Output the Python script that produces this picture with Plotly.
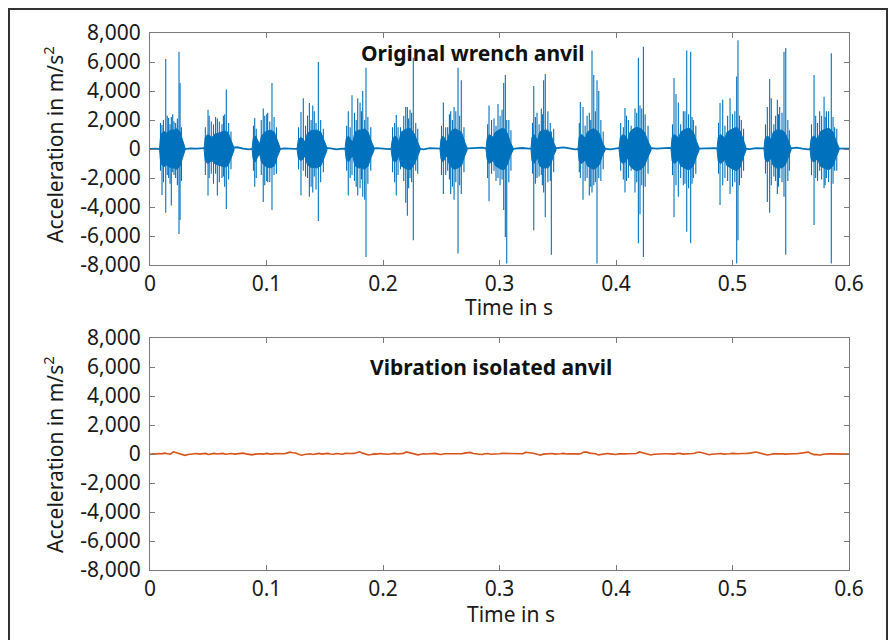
import plotly.graph_objects as go

# ---------------- data ----------------
# Top panel: impact bursts of the original wrench anvil (time in ms)
burst_start_ms = [8.2, 46.4, 87.6, 126.2, 167.4, 206.9, 248.9, 288.4, 327.0, 367.4,
                  402.6, 447.2, 486.7, 527.0, 566.5]
burst_end_ms = [30.0, 72.1, 111.6, 151.9, 192.3, 231.8, 272.1, 311.6, 348.5, 390.6,
                430.1, 471.3, 511.6, 550.2, 591.4]
# relative position inside a burst and dense-core amplitude (m/s^2) read at those positions
env_pos = [0, 0.04, 0.12, 0.2, 0.27, 0.34, 0.45, 0.56, 0.68, 0.8, 0.9, 1.0]
env_amp = [
    [0, 900, 1150, 1200, 1100, 1200, 1300, 1300, 1400, 1200, 700, 100],
    [0, 800, 1000, 900, 800, 1000, 1100, 1150, 1250, 1150, 600, 100],
    [0, 700, 900, 550, 350, 900, 1150, 1250, 1300, 1150, 550, 100],
    [0, 600, 800, 700, 450, 1050, 1250, 1300, 1300, 1150, 600, 100],
    [0, 700, 900, 600, 500, 1150, 1300, 1300, 1400, 1150, 550, 100],
    [0, 600, 900, 800, 450, 1150, 1300, 1400, 1400, 1050, 550, 100],
    [0, 700, 900, 600, 450, 1050, 1300, 1400, 1300, 1150, 550, 100],
    [0, 700, 1000, 900, 800, 1150, 1300, 1400, 1400, 1050, 450, 100],
    [0, 800, 1000, 800, 600, 1150, 1300, 1300, 1300, 1000, 450, 100],
    [0, 800, 1000, 900, 700, 1150, 1300, 1400, 1300, 1050, 450, 100],
    [0, 800, 1000, 900, 600, 1150, 1400, 1500, 1400, 1150, 550, 100],
    [0, 800, 1000, 900, 700, 1150, 1300, 1400, 1400, 1150, 550, 100],
    [0, 800, 1000, 900, 700, 1150, 1300, 1400, 1500, 1250, 600, 100],
    [0, 700, 900, 800, 600, 1150, 1300, 1300, 1300, 1050, 550, 100],
    [0, 700, 900, 800, 600, 1150, 1300, 1400, 1400, 1150, 550, 100],
]
# tallest individual spikes: time (ms), positive peak, negative peak
spike_ms = [10.3, 13.5, 16.0, 18.3, 20.6, 24.9, 25.8,
            49.8, 52.6, 57.8, 61.8, 64.1, 65.5,
            89.9, 97.2, 100.2, 101.0, 104.7,
            129.6, 131.6, 136.8, 139.7, 142.5, 144.5,
            170.2, 173.4, 178.3, 180.3, 182.6, 184.3, 185.4,
            211.4, 212.9, 219.5, 220.9, 223.2, 226.0, 228.1,
            251.8, 253.8, 258.1, 261.0, 264.4, 267.2,
            291.0, 295.3, 298.7, 303.6, 305.0, 306.2,
            329.4, 332.2, 335.9, 337.9, 339.3, 343.6, 344.5,
            369.4, 371.7, 377.1, 379.4, 380.9, 383.7, 385.2,
            407.7, 410.6, 416.3, 419.2, 420.6, 422.1, 423.5,
            449.8, 451.5, 453.5, 457.8, 460.7, 464.1, 466.4,
            489.3, 491.6, 497.9, 503.6, 504.7, 507.6,
            529.9, 531.9, 533.3, 538.5, 540.5, 544.2, 545.7,
            570.0, 571.4, 574.8, 578.6, 580.6, 584.8, 587.7]
spike_up = [1650, 6200, 2140, 2200, 1900, 6700, 4550,
            2700, 1900, 2100, 1700, 2400, 4100,
            2140, 2800, 2400, 2500, 4550,
            2550, 3500, 3170, 3000, 1800, 6000,
            2600, 3700, 3500, 3200, 4000, 2000, 5600,
            2350, 1500, 2900, 2900, 2700, 6300, 1800,
            3200, 1500, 2600, 2900, 5600, 4750,
            3000, 2100, 3100, 4550, 5100, 2000,
            4350, 2500, 2800, 4750, 5170, 1800, 1200,
            3240, 2900, 2500, 6800, 5100, 4750, 4000,
            2830, 2000, 2800, 6300, 3000, 2800, 7050,
            4900, 3800, 3200, 2600, 6800, 6700, 2000,
            3170, 3400, 3500, 5000, 7500, 2000,
            2900, 4830, 3500, 3400, 2900, 6700, 6970,
            5100, 2300, 2600, 3600, 2600, 6600, 1500]
spike_dn = [-3170, -4400, -2000, -3900, -1800, -5870, -4900,
            -3200, -1700, -3200, -2000, -2600, -4140,
            -2600, -3650, -2200, -2300, -4200,
            -3200, -1500, -3300, -3000, -2800, -4970,
            -3200, -1800, -3200, -2700, -3300, -3500, -7450,
            -3200, -1800, -3700, -4600, -2000, -6300, -1500,
            -3100, -1800, -3100, -3500, -7200, -3100,
            -3600, -1500, -2000, -4200, -6070, -7900,
            -5600, -2000, -1800, -3000, -4700, -2200, -7300,
            -2000, -3500, -3200, -3000, -2500, -7900, -2000,
            -3000, -2000, -3000, -6500, -4500, -2500, -7450,
            -4700, -2500, -3300, -2500, -5700, -6500, -2000,
            -3860, -2500, -3100, -7900, -6300, -2000,
            -3650, -4400, -2500, -3100, -2000, -3300, -7300,
            -5240, -2000, -1500, -2700, -2000, -7900, -1500]
# smaller spikes inside the dense cores: time (ms), positive peak, negative peak
mid_ms = [9.0, 11.5, 14.8, 17.2, 19.5, 22.0, 23.5, 27.0,
          47.5, 50.8, 54.5, 56.3, 59.5, 63.0, 67.5, 69.5,
          88.8, 91.2, 95.5, 98.5, 102.8, 106.5, 108.5,
          127.5, 133.5, 135.2, 138.3, 141.0, 146.5, 148.8,
          168.8, 171.8, 175.5, 177.0, 181.5, 187.0, 189.5,
          208.2, 210.0, 215.0, 217.8, 222.0, 224.6, 229.8,
          250.2, 255.5, 257.0, 259.6, 262.5, 265.8, 269.5,
          289.8, 293.2, 297.0, 300.5, 302.2, 308.0, 309.8,
          328.3, 330.8, 334.0, 336.8, 341.5, 346.5,
          368.5, 373.5, 375.2, 378.3, 382.3, 387.0, 389.0,
          404.0, 406.3, 409.0, 413.0, 417.8, 425.0, 427.5,
          448.5, 455.5, 459.2, 462.3, 465.3, 468.5,
          488.0, 493.5, 495.8, 500.0, 502.0, 506.0, 509.5,
          528.3, 535.5, 537.0, 539.5, 542.5, 547.5, 548.8,
          567.8, 573.0, 576.5, 579.5, 582.5, 586.3, 589.5]
mid_up = [1800, 2000, 2300, 1700, 2400, 1800, 2100, 1500,
          1500, 2300, 1700, 2200, 1900, 2300, 1800, 1200,
          1600, 1400, 2000, 2300, 1900, 2200, 1500,
          1500, 1600, 2300, 2000, 2600, 2000, 1400,
          1600, 1500, 2500, 2000, 2600, 2200, 1500,
          1500, 1800, 1500, 2300, 2100, 2500, 1400,
          1600, 1500, 2400, 2000, 2600, 2300, 1500,
          1700, 2000, 1600, 2300, 2700, 2000, 1300,
          1800, 2200, 1700, 2400, 2600, 1400,
          1800, 1600, 2300, 2000, 2600, 2000, 1200,
          1800, 1500, 2300, 1600, 2500, 2400, 1600,
          1700, 1700, 2600, 2400, 2200, 1600,
          1800, 1600, 2300, 2400, 2600, 2300, 1400,
          1700, 1700, 2300, 2400, 2500, 2000, 1300,
          1700, 1800, 2300, 2200, 2600, 2200, 1400]
mid_dn = [-1500, -2300, -1800, -2400, -1600, -2000, -2500, -2200,
          -1800, -2000, -2400, -1700, -2300, -1900, -2100, -1400,
          -1500, -2000, -1800, -2500, -2300, -1800, -1700,
          -1400, -1900, -2000, -2600, -1900, -2300, -1600,
          -1500, -2000, -2200, -2600, -2100, -2400, -1500,
          -1600, -2300, -1400, -2200, -2700, -2300, -1700,
          -1800, -1500, -2100, -2600, -2300, -2500, -1600,
          -2000, -1700, -2200, -2500, -2100, -2300, -1500,
          -1700, -2400, -1900, -2500, -2300, -1600,
          -1600, -2200, -2000, -2600, -2300, -2200, -1400,
          -1500, -2100, -2200, -1500, -2300, -2600, -1700,
          -1800, -2000, -2400, -2700, -2400, -1700,
          -1700, -2000, -2200, -2600, -2300, -2500, -1500,
          -1700, -1900, -2200, -2600, -2300, -2200, -1500,
          -1800, -2200, -2100, -2500, -2300, -2400, -1500]
# quiet baseline between impacts, every 5 ms (m/s^2)
base_top = [0, 30, -20, 20, 60, -40, 0, 40, 20, 30, 80, 20, -60, 40, 90, 120, 30, -20, 40, 10,
            60, 20, -30, 40, 20, 10, 70, 30, -40, 60, 80, 40, -20, 30, 10, 50, 120, 30, 10, 60,
            30, -10, 50, 20, 40, 90, 30, -20, 60, 30, 20, 70, 40, -30, 30, 60, 40, 90, 20, 0,
            30, 50, -20, 40, 70, 20, 60, 30, -40, 20, 40, 110, 50, -20, 30, 40, 60, 20, 30, -30,
            50, 90, 20, 30, 40, -10, 60, 30, 40, 80, 20, -30, 40, 70, 20, 40, 30, 60, -20, 20,
            40, 80, 30, -10, 60, 30, 40, 70, 20, 0, 50, 90, 30, -20, 40, 30, 60, 20, 30, 40, 20]
# bottom panel: vibration isolated anvil, every 2.5 ms (m/s^2)
iso_vals = [-20, 20, -10, 30, 10, 60, 20, -10, 150, 90, 60, -40, -90, -30, -10, 20, 30, -10, 20, 40,
            -30, 10, 40, 0, 10, 40, -20, 10, 30, -10, 20, 50, 60, 10, -20, -60, -10, 30, 20, -10,
            40, 10, -10, 30, 30, 0, 20, 60, 130, 90, 70, -20, -80, -30, 10, 20, -30, 20, 40, -10,
            20, 40, 0, -20, 30, 10, -20, 40, 60, 30, 40, 110, 150, 60, 20, -70, -40, 10, -10, 30,
            10, -20, -20, 20, 40, 0, 30, 40, 140, 90, 60, 20, -60, -20, 20, 0, 10, 40, 40, -10,
            -30, 20, 20, -10, 30, 40, 0, 20, 60, 110, 110, 40, 10, -50, -30, 20, 30, -20, -20, 10,
            20, 40, 40, -10, -10, 30, 30, 0, 20, 120, 120, 70, 40, -20, -80, -10, 10, 20, 30, -10,
            -20, 20, 40, 0, 20, 30, 10, -10, 30, 130, 130, 60, 60, 20, -60, -30, 20, 30, 10, -20,
            -30, 20, 40, 10, 20, 40, 30, 30, 140, 100, 40, 0, -70, -20, 0, 20, 30, 20, 20, -10,
            -10, 30, 40, -10, 20, 30, 30, 50, 120, 120, 80, 30, -50, -20, 10, 20, 30, -10, -20, 20,
            40, 10, 20, 30, 10, 40, 60, 80, 140, 90, 30, -10, -70, -30, 20, 10, 30, 20, -10, 10,
            40, 20, 20, 50, 100, 130, 130, 40, -40, -40, -80, -20, 20, 10, 10, 0, -10, 20, 10, -10, -10]

x_ticks = [0, 0.1, 0.2, 0.3, 0.4, 0.5, 0.6]
x_tick_labels = ["0", "0.1", "0.2", "0.3", "0.4", "0.5", "0.6"]
y_ticks = [-8000, -6000, -4000, -2000, 0, 2000, 4000, 6000, 8000]
y_tick_labels = ["-8,000", "-6,000", "-4,000", "-2,000", "0", "2,000", "4,000", "6,000", "8,000"]

title_top = "Original wrench anvil"
title_bottom = "Vibration isolated anvil"
x_title = "Time in s"
y_title = "Acceleration in m/s<sup>2</sup>"

BLUE = "#0072BD"
ORANGE = "#D95319"
FONT = "Noto Sans"

# ---------------- figure ----------------
W, H = 889, 640
ML, MR, MT, MB = 150, 40, 33, 70
fig = go.Figure()

def px_x(p):
    return (p - ML) / (W - ML - MR)

def px_y(p):
    return (H - MB - p) / (H - MT - MB)

top_dom = [px_y(265), 1.0]
bot_dom = [0.0, px_y(338)]

# baseline of top panel
t_base = [i * 0.005 for i in range(len(base_top))]
fig.add_trace(go.Scatter(x=t_base, y=base_top, mode="lines",
                         line=dict(color=BLUE, width=1.8), xaxis="x", yaxis="y",
                         hoverinfo="skip", showlegend=False))

# dense cores of each burst
for s, e, amps in zip(burst_start_ms, burst_end_ms, env_amp):
    xs_up = [(s + p * (e - s)) / 1000 for p in env_pos]
    xs = xs_up + xs_up[::-1]
    ys = amps + [-a for a in amps[::-1]]
    fig.add_trace(go.Scatter(x=xs, y=ys, mode="lines", fill="toself",
                             fillcolor=BLUE, line=dict(color=BLUE, width=1),
                             xaxis="x", yaxis="y", hoverinfo="skip", showlegend=False))

# spikes (medium and tall)
sx, sy = [], []
for t, u, d in list(zip(mid_ms, mid_up, mid_dn)) + list(zip(spike_ms, spike_up, spike_dn)):
    sx += [t / 1000, t / 1000, None]
    sy += [d, u, None]
fig.add_trace(go.Scatter(x=sx, y=sy, mode="lines", line=dict(color=BLUE, width=1.1),
                         xaxis="x", yaxis="y", hoverinfo="skip", showlegend=False))

# bottom panel
t_iso = [i * 0.0025 for i in range(len(iso_vals))]
fig.add_trace(go.Scatter(x=t_iso, y=iso_vals, mode="lines",
                         line=dict(color=ORANGE, width=1.6), xaxis="x2", yaxis="y2",
                         hoverinfo="skip", showlegend=False))

axis_col = "#7a7a7a"
tick_font = dict(family=FONT, size=21, color="#1a1a1a")
xcommon = dict(range=[0, 0.6], tickvals=x_ticks, ticktext=x_tick_labels, ticks="inside",
               ticklen=5, tickcolor=axis_col, showline=True, linecolor=axis_col, linewidth=1,
               mirror="allticks", showgrid=False, zeroline=False, tickfont=tick_font,
               domain=[0, 1], fixedrange=True)
ycommon = dict(range=[-8000, 8000], tickvals=y_ticks, ticktext=y_tick_labels, ticks="inside",
               ticklen=5, tickcolor=axis_col, showline=True, linecolor=axis_col, linewidth=1,
               mirror="allticks", showgrid=False, zeroline=False, tickfont=tick_font,
               fixedrange=True, ticklabelstandoff=4)

fig.update_layout(
    width=W, height=H, margin=dict(l=ML, r=MR, t=MT, b=MB),
    paper_bgcolor="white", plot_bgcolor="white",
    xaxis=dict(**xcommon, anchor="y"),
    yaxis=dict(**ycommon, domain=top_dom, anchor="x"),
    xaxis2=dict(**xcommon, anchor="y2"),
    yaxis2=dict(**ycommon, domain=bot_dom, anchor="x2"),
    showlegend=False,
)

lab_font = dict(family=FONT, size=21, color="#1a1a1a")
title_font = dict(family=FONT, size=21, color="#111111")
ann = [
    dict(text="<b>%s</b>" % title_top, x=px_x(473), y=px_y(53), font=title_font),
    dict(text="<b>%s</b>" % title_bottom, x=px_x(491), y=px_y(367), font=title_font),
    dict(text=x_title, x=px_x(509), y=px_y(307), font=lab_font),
    dict(text=x_title, x=px_x(511), y=px_y(614), font=lab_font),
    dict(text=y_title, x=px_x(53), y=px_y(145), textangle=-90, font=lab_font),
    dict(text=y_title, x=px_x(53), y=px_y(455), textangle=-90, font=lab_font),
]
for a in ann:
    fig.add_annotation(xref="paper", yref="paper", showarrow=False,
                       xanchor="center", yanchor="middle", **a)

# outer frame
fig.add_shape(type="rect", xref="paper", yref="paper",
              x0=px_x(9), x1=px_x(887), y0=px_y(670), y1=px_y(9),
              line=dict(color="#333333", width=2), fillcolor="rgba(0,0,0,0)")

fig.write_html("out.html")
